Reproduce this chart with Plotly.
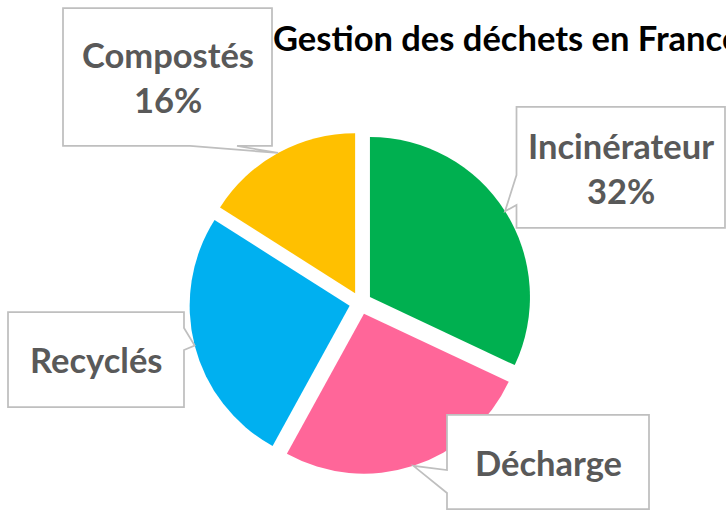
import math
import plotly.graph_objects as go

# ---- data ----
title_text = "Gestion des déchets en France"
labels = ["Incinérateur", "Décharge", "Recyclés", "Compostés"]
values = [32, 26, 26, 16]
colors = ["#00B050", "#FF6699", "#00B0F0", "#FFC000"]
show_pct = [True, False, False, True]

# ---- layout geometry (pixels) ----
W, H = 726, 511
CX, CY, R, PULL = 360.5, 303.0, 160.0, 0.07
FONT = "Lato"
FSIZE = 34.5
TEXT_COLOR = "#595959"
BOX_LINE = "#BFBFBF"

half = R * (1 + PULL)
dom_x = [(CX - half) / W, (CX + half) / W]
dom_y = [1 - (CY + half) / H, 1 - (CY - half) / H]

fig = go.Figure(go.Pie(
    labels=labels, values=values, sort=False, direction="clockwise",
    rotation=0, pull=PULL,
    marker=dict(colors=colors, line=dict(width=0)),
    textinfo="none", hoverinfo="label+percent",
    domain=dict(x=dom_x, y=dom_y), showlegend=False,
))

# callout boxes: rectangle (x0, y0, x1, y1), side of the pointer, pointer base range
callouts = {
    "Incinérateur": dict(box=(516.5, 107, 725, 228), side="left", base=(175, 205)),
    "Décharge": dict(box=(447, 415, 649, 509), side="left", base=(470, 493)),
    "Recyclés": dict(box=(8, 312, 184, 407), side="right", base=(328, 350)),
    "Compostés": dict(box=(63, 8, 272, 146), side="bottom", base=(190, 237)),
}


def P(x, y):
    return x / W, 1 - y / H


total = sum(values)
cum = 0.0
shapes = []
annotations = []
for lab, val, pct in zip(labels, values, show_pct):
    mid = 2 * math.pi * (cum + val / 2) / total
    cum += val
    dx, dy = math.sin(mid), -math.cos(mid)
    tip = (CX + (R * PULL + R) * dx, CY + (R * PULL + R) * dy)
    c = callouts[lab]
    x0, y0, x1, y1 = c["box"]
    b0, b1 = c["base"]
    if c["side"] == "left":
        pts = [(x0, y0), (x1, y0), (x1, y1), (x0, y1), (x0, b1), tip, (x0, b0)]
    elif c["side"] == "right":
        pts = [(x0, y0), (x1, y0), (x1, b0), tip, (x1, b1), (x1, y1), (x0, y1)]
    else:  # bottom
        pts = [(x0, y0), (x1, y0), (x1, y1), (b1, y1), tip, (b0, y1), (x0, y1)]
    path = "M " + " L ".join("%.5f,%.5f" % P(*p) for p in pts) + " Z"
    shapes.append(dict(type="path", xref="paper", yref="paper", path=path,
                       fillcolor="white", line=dict(color=BOX_LINE, width=1.75),
                       layer="above"))
    txt = "<b>%s</b>" % lab
    if pct:
        txt += "<br><b>%d%%</b>" % round(100 * val / total)
    tx, ty = P((x0 + x1) / 2, (y0 + y1) / 2)
    annotations.append(dict(text=txt, x=tx, y=ty, xref="paper", yref="paper",
                            xanchor="center", yanchor="middle", showarrow=False,
                            font=dict(family=FONT, size=FSIZE, color=TEXT_COLOR)))

fig.update_layout(
    width=W, height=H,
    margin=dict(l=0, r=0, t=0, b=0),
    paper_bgcolor="white", plot_bgcolor="white",
    title=dict(text="<b>%s</b>" % title_text, x=273 / W, xanchor="left",
               xref="paper", y=1 - 38.5 / H, yanchor="middle", yref="container",
               font=dict(family=FONT, size=FSIZE, color="black")),
    shapes=shapes, annotations=annotations,
)

fig.write_html("out.html")
